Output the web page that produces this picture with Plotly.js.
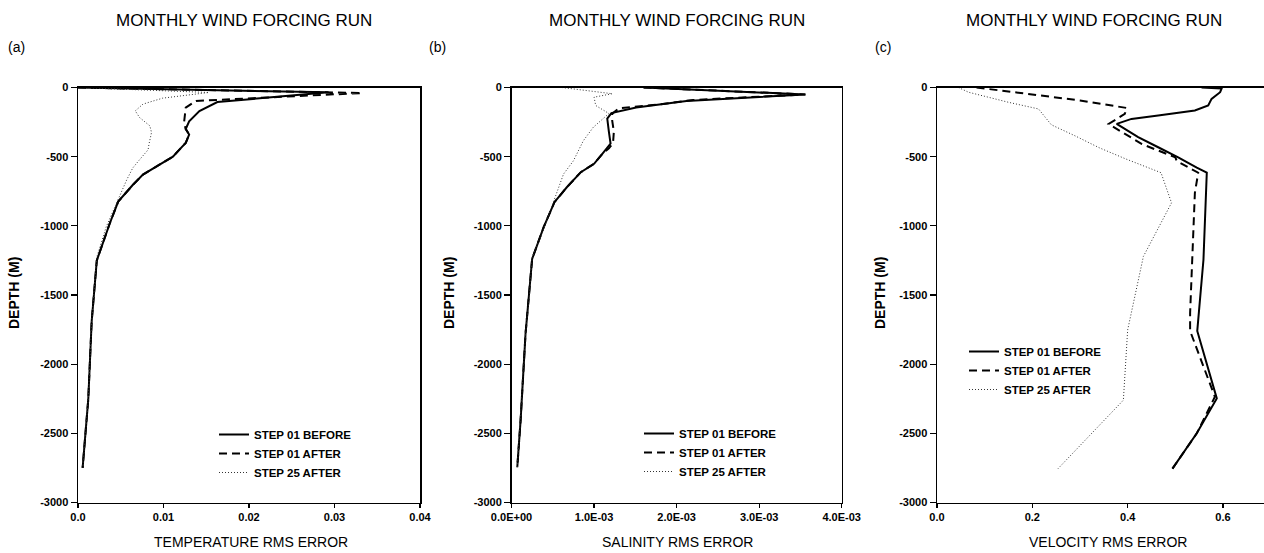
<!DOCTYPE html>
<html>
<head>
<meta charset="utf-8">
<script src="https://cdn.plot.ly/plotly-3.0.1.min.js"></script>
<style>
html,body{margin:0;padding:0;background:#fff;overflow:hidden;}
#chart{width:1264px;height:553px;}
</style>
</head>
<body>
<div id="chart"></div>
<script>
// ---------- data ----------
const seriesNames = ['STEP 01 BEFORE', 'STEP 01 AFTER', 'STEP 25 AFTER'];
const panelTitle = 'MONTHLY WIND FORCING RUN';
const panelLabels = ['(a)', '(b)', '(c)'];
const xTitles = ['TEMPERATURE RMS ERROR', 'SALINITY RMS ERROR', 'VELOCITY RMS ERROR'];
const yTitle = 'DEPTH (M)';

const depthTicks = [0, -500, -1000, -1500, -2000, -2500, -3000];
const depthTickText = ['0', '-500', '-1000', '-1500', '-2000', '-2500', '-3000'];

const tempTicks = [0, 0.01, 0.02, 0.03, 0.04];
const tempTickText = ['0.0', '0.01', '0.02', '0.03', '0.04'];
const saltTicks = [0, 0.001, 0.002, 0.003, 0.004];
const saltTickText = ['0.0E+00', '1.0E-03', '2.0E-03', '3.0E-03', '4.0E-03'];
const velTicks = [0, 0.2, 0.4, 0.6];
const velTickText = ['0.0', '0.2', '0.4', '0.6'];

// (a) temperature
const tempBeforeDepth = [0, -35, -105, -170, -245, -300, -340, -400, -440, -500, -570, -630, -705, -825, -985, -1250, -1690, -2255, -2750];
const tempBeforeVal   = [0, 0.0293, 0.0163, 0.0142, 0.0130, 0.0126, 0.0130, 0.0126, 0.0120, 0.0111, 0.0092, 0.0076, 0.0064, 0.0047, 0.0037, 0.0022, 0.0016, 0.0012, 0.00054];
const tempAfterDepth  = [0, -40, -97, -146, -255, -300, -340, -400, -440, -500, -570, -630, -705, -825, -985, -1250, -1690, -2255, -2750];
const tempAfterVal    = [0, 0.0332, 0.0138, 0.0126, 0.0124, 0.0126, 0.0130, 0.0126, 0.0120, 0.0111, 0.0092, 0.0076, 0.0064, 0.0047, 0.0037, 0.0022, 0.0016, 0.0012, 0.00054];
const temp25Depth     = [0, -36, -77, -120, -169, -217, -277, -325, -410, -450, -522, -582, -667, -813, -1007, -1226, -1690, -2255, -2750];
const temp25Val       = [0, 0.0153, 0.0099, 0.0076, 0.0067, 0.0072, 0.0084, 0.0086, 0.0083, 0.0082, 0.0072, 0.0064, 0.0057, 0.0047, 0.0033, 0.0022, 0.0016, 0.0012, 0.00054];

// (b) salinity
const saltBeforeDepth = [0, -50, -97, -145, -185, -225, -320, -405, -480, -552, -612, -721, -829, -1010, -1239, -1540, -1780, -2408, -2745];
const saltBeforeVal   = [0.00160, 0.00356, 0.00212, 0.00151, 0.00121, 0.00116, 0.00118, 0.00120, 0.00110, 0.00100, 0.00084, 0.00067, 0.00052, 0.00039, 0.00025, 0.00021, 0.00017, 0.00011, 0.00007];
const saltAfterDepth  = [0, -50, -90, -125, -150, -190, -240, -320, -400, -440, -480, -552, -612, -721, -829, -1010, -1239, -1540, -1780, -2408, -2745];
const saltAfterVal    = [0.00160, 0.00356, 0.00220, 0.00175, 0.00130, 0.00122, 0.00122, 0.00124, 0.00123, 0.00118, 0.00110, 0.00100, 0.00084, 0.00067, 0.00052, 0.00039, 0.00025, 0.00021, 0.00017, 0.00011, 0.00007];
const salt25Depth     = [0, -45, -70, -130, -188, -288, -385, -530, -626, -796, -989, -1230, -1540, -1780, -2408, -2745];
const salt25Val       = [0.00061, 0.00122, 0.00100, 0.00102, 0.00118, 0.00099, 0.00087, 0.00075, 0.00063, 0.00053, 0.00041, 0.00025, 0.00021, 0.00017, 0.00011, 0.00007];

// (c) velocity
const velBeforeDepth = [0, -8, -34, -82, -130, -166, -202, -227, -263, -359, -432, -505, -580, -616, -1245, -1760, -2248, -2500, -2755];
const velBeforeVal   = [0.555, 0.597, 0.594, 0.576, 0.569, 0.541, 0.464, 0.408, 0.377, 0.422, 0.464, 0.506, 0.545, 0.566, 0.559, 0.546, 0.587, 0.545, 0.494];
const velAfterDepth  = [0, -46, -94, -148, -191, -264, -336, -409, -505, -532, -616, -761, -1631, -1760, -2236, -2500, -2755];
const velAfterVal    = [0.083, 0.185, 0.300, 0.398, 0.394, 0.360, 0.394, 0.430, 0.500, 0.503, 0.548, 0.541, 0.531, 0.531, 0.583, 0.545, 0.494];
const vel25Depth     = [0, -34, -107, -155, -215, -270, -350, -435, -515, -616, -834, -1221, -1752, -2260, -2755];
const vel25Val       = [0.045, 0.066, 0.150, 0.213, 0.227, 0.240, 0.290, 0.340, 0.395, 0.470, 0.492, 0.433, 0.400, 0.391, 0.254];

// ---------- drawing ----------
const W = 1264, H = 553;
const px = v => v / W;
const py = v => 1 - v / H;
const FONT = 'Liberation Sans, Arial, Helvetica, sans-serif';

const styles = [
  {color: '#000', width: 2, dash: 'solid'},
  {color: '#000', width: 2, dash: '8px,5px'},
  {color: '#333', width: 1, dash: '1px,2px'}
];

const panels = [
  {xa: 'x', ya: 'y', leg: 'legend', data: [[tempBeforeVal, tempBeforeDepth], [tempAfterVal, tempAfterDepth], [temp25Val, temp25Depth]]},
  {xa: 'x2', ya: 'y2', leg: 'legend2', data: [[saltBeforeVal, saltBeforeDepth], [saltAfterVal, saltAfterDepth], [salt25Val, salt25Depth]]},
  {xa: 'x3', ya: 'y3', leg: 'legend3', data: [[velBeforeVal, velBeforeDepth], [velAfterVal, velAfterDepth], [vel25Val, vel25Depth]]}
];

const traces = [];
panels.forEach(p => {
  p.data.forEach((d, i) => {
    traces.push({
      type: 'scatter', mode: 'lines',
      x: d[0], y: d[1],
      xaxis: p.xa, yaxis: p.ya, legend: p.leg,
      name: seriesNames[i],
      line: {color: styles[i].color, width: styles[i].width, dash: styles[i].dash},
      hoverinfo: 'x+y'
    });
  });
});

const tickFont = {family: FONT, size: 11, color: '#000', weight: 'bold'};
const yDomain = [1 - 502.5 / H, 1 - 87.5 / H];

function xAxis(domain, range, vals, text, mirror) {
  return {
    domain: domain, range: range, tickmode: 'array', tickvals: vals, ticktext: text,
    showgrid: false, zeroline: false, showline: true, mirror: mirror,
    linecolor: '#000', linewidth: 1.5, ticks: 'outside', ticklen: 4, tickwidth: 1.2,
    tickcolor: '#000', tickfont: tickFont, fixedrange: true
  };
}
function yAxis(anchor, mirror) {
  return {
    domain: yDomain, range: [-3000, 0], anchor: anchor, tickmode: 'array',
    tickvals: depthTicks, ticktext: depthTickText,
    showgrid: false, zeroline: false, showline: true, mirror: mirror,
    linecolor: '#000', linewidth: 1.5, ticks: 'outside', ticklen: 6, tickwidth: 1.2,
    tickcolor: '#000', tickfont: tickFont, fixedrange: true
  };
}

const velMax = 0.6 * (W - 937) / (1223 - 937);

function legendAt(xpx, ypx) {
  return {
    x: px(xpx), y: py(ypx), xanchor: 'left', yanchor: 'top',
    bgcolor: 'rgba(0,0,0,0)', borderwidth: 0,
    font: {family: FONT, size: 11.5, color: '#000', weight: 'bold'},
    itemclick: false, itemdoubleclick: false, tracegroupgap: 0
  };
}

const annotations = [];
const titleX = [244, 677, 1094];
const labelX = [16, 437, 883];
const xTitleX = [251, 677, 1108];
const yTitleX = [14, 449, 880];
for (let i = 0; i < 3; i++) {
  annotations.push({text: panelTitle, xref: 'paper', yref: 'paper', x: px(titleX[i]), y: py(21), xanchor: 'center', yanchor: 'middle', showarrow: false, font: {family: FONT, size: 17, color: '#000'}});
  annotations.push({text: panelLabels[i], xref: 'paper', yref: 'paper', x: px(labelX[i]), y: py(47), xanchor: 'center', yanchor: 'middle', showarrow: false, font: {family: FONT, size: 14, color: '#000'}});
  annotations.push({text: xTitles[i], xref: 'paper', yref: 'paper', x: px(xTitleX[i]), y: py(542), xanchor: 'center', yanchor: 'middle', showarrow: false, font: {family: FONT, size: 14, color: '#000'}});
  annotations.push({text: yTitle, xref: 'paper', yref: 'paper', x: px(yTitleX[i]), y: py(293), xanchor: 'center', yanchor: 'middle', textangle: -90, showarrow: false, font: {family: FONT, size: 14, color: '#000', weight: 'bold'}});
}

const layout = {
  width: W, height: H,
  margin: {l: 0, r: 0, t: 0, b: 0},
  paper_bgcolor: '#fff', plot_bgcolor: '#fff',
  showlegend: true,
  font: {family: FONT, color: '#000'},
  xaxis: xAxis([px(78), px(420)], [0, 0.04], tempTicks, tempTickText, true),
  yaxis: yAxis('x', true),
  xaxis2: xAxis([px(511.5), px(841.7)], [0, 0.004], saltTicks, saltTickText, true),
  yaxis2: yAxis('x2', true),
  xaxis3: xAxis([px(937), 1], [0, velMax], velTicks, velTickText, true),
  yaxis3: yAxis('x3', false),
  legend: legendAt(214, 420),
  legend2: legendAt(639, 419),
  legend3: legendAt(964, 337),
  annotations: annotations
};

Plotly.newPlot('chart', traces, layout, {displayModeBar: false, staticPlot: true});
</script>
</body>
</html>
